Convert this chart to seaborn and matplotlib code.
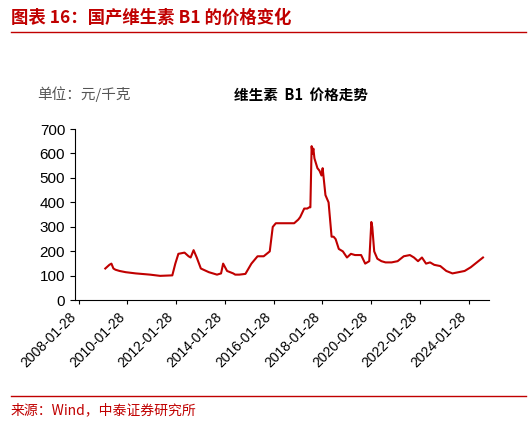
import matplotlib
matplotlib.use("Agg")
import matplotlib.pyplot as plt
import seaborn as sns
import pandas as pd
from matplotlib.lines import Line2D

dates = ["2009-03-01","2009-05-01","2009-06-01","2009-07-01","2009-08-01","2009-10-01","2010-01-01","2010-06-01","2011-01-01","2011-06-01",
 "2011-12-01","2012-01-15","2012-03-01","2012-06-01","2012-08-01","2012-09-01","2012-10-15","2012-12-01","2013-02-01","2013-06-01",
 "2013-10-01","2013-12-01","2014-01-01","2014-03-01","2014-06-01","2014-07-01","2014-09-01","2014-12-01","2015-03-01","2015-06-01",
 "2015-09-01","2015-12-01","2016-01-15","2016-03-01","2016-06-01","2016-12-01","2017-02-01","2017-03-01","2017-05-01","2017-06-15",
 "2017-07-15","2017-08-01","2017-08-20","2017-09-01","2017-09-15","2017-10-01","2017-11-15","2017-12-15","2018-01-15","2018-02-01","2018-03-15",
 "2018-05-01","2018-06-15","2018-07-15","2018-08-15","2018-10-01","2018-12-01","2019-02-01","2019-04-01","2019-06-01",
 "2019-09-01","2019-11-01","2020-01-01","2020-02-01","2020-02-15","2020-03-15","2020-05-01","2020-07-01","2020-09-01","2020-12-01",
 "2021-03-01","2021-06-01","2021-09-01","2021-11-01","2022-01-01","2022-03-01","2022-05-01","2022-07-01","2022-09-01","2022-12-01",
 "2023-03-01","2023-06-01","2023-09-01","2023-12-01","2024-03-01","2024-06-01","2024-09-01"]
values = [130,145,150,130,125,120,115,110,105,100,
 102,150,190,195,180,175,205,175,130,115,
 105,110,150,120,110,105,105,108,150,180,
 180,200,300,315,315,315,330,340,375,375,
 380,380,630,600,620,580,540,530,510,540,430,
 400,260,260,250,210,200,175,190,185,
 185,150,160,320,300,200,170,160,155,155,
 160,180,185,175,160,175,150,155,145,140,
 120,110,115,120,135,155,175]

df = pd.DataFrame({"date": pd.to_datetime(dates), "price": values})
red = "#C00000"
fig = plt.figure(figsize=(5.31, 4.23), dpi=100)
plt.rcParams['font.family'] = ['Noto Sans CJK SC', 'DejaVu Sans']
ax = fig.add_axes([0.141, 0.29, 0.78, 0.405])
sns.lineplot(data=df, x="date", y="price", color=red, linewidth=1.5, ax=ax)
ax.set_ylim(0, 700)
ax.set_yticks(range(0, 701, 100))
ax.set_xlim(pd.Timestamp("2007-12-01"), pd.Timestamp("2024-12-01"))
ticks = pd.to_datetime([f"{y}-01-28" for y in range(2008, 2025, 2)])
ax.set_xticks(ticks)
ax.set_xticklabels([t.strftime("%Y-%m-%d") for t in ticks], rotation=45, ha="right",
                   fontsize=10, family=["Liberation Sans", "DejaVu Sans"])
for lab in ax.get_yticklabels():
    lab.set_family(["Liberation Sans", "DejaVu Sans"])
ax.tick_params(axis="y", labelsize=11)
ax.set_xlabel(""); ax.set_ylabel("")
for s in ["top", "right"]:
    ax.spines[s].set_visible(False)
ax.tick_params(axis="x", length=3)
fig.text(0.02, 0.945, "图表 16：国产维生素 B1 的价格变化", color=red, fontsize=12.5, fontweight="bold", style="italic")
fig.add_artist(Line2D([0.02, 0.99], [0.925, 0.925], color=red, lw=1))
fig.text(0.07, 0.765, "单位：元/千克", fontsize=10.5, color="#555555")
fig.text(0.44, 0.765, "维生素  B1  价格走势", fontsize=10.5, fontweight="bold")
fig.add_artist(Line2D([0.02, 0.99], [0.065, 0.065], color=red, lw=1))
fig.text(0.02, 0.02, "来源：Wind，中泰证券研究所", color=red, fontsize=10)
fig.savefig("out.png", dpi=100)
